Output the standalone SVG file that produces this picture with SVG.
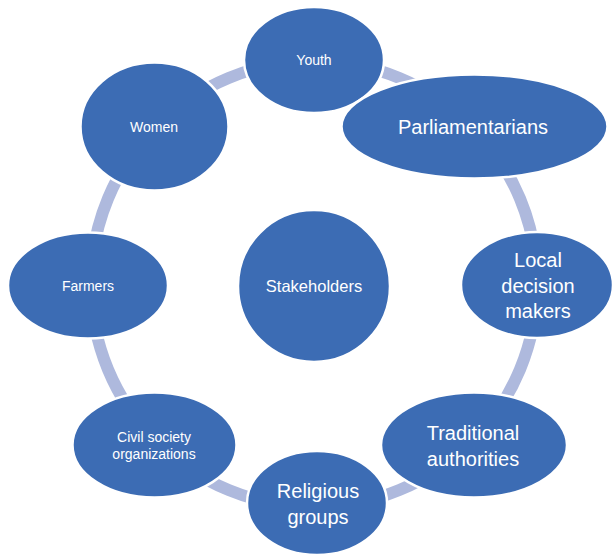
<svg xmlns="http://www.w3.org/2000/svg" width="613" height="556" viewBox="0 0 613 556">
<style>
.arc{fill:none;stroke:#AEB9DD;stroke-width:12}
.node{fill:#3C6CB4;stroke:#FFFFFF;stroke-width:2.5}
.t{fill:#FFFFFF;font-family:"Liberation Sans",Arial,sans-serif;text-anchor:middle}
.s{font-size:14px}
.l{font-size:20px}
.m{font-size:16.5px}
</style>
<rect width="613" height="556" fill="#FFFFFF"/>
<g id="connectors">
<path class="arc" d="M314 61 A223 223 0 0 1 471.7 126.3"/>
<path class="arc" d="M471.7 126.3 A223 223 0 0 1 537 284"/>
<path class="arc" d="M537 284 A223 223 0 0 1 471.7 441.7"/>
<path class="arc" d="M471.7 441.7 A223 223 0 0 1 314 507"/>
<path class="arc" d="M314 507 A223 223 0 0 1 156.3 441.7"/>
<path class="arc" d="M156.3 441.7 A223 223 0 0 1 91 284"/>
<path class="arc" d="M91 284 A223 223 0 0 1 156.3 126.3"/>
<path class="arc" d="M156.3 126.3 A223 223 0 0 1 314 61"/>
</g>
<g id="stakeholders">
<ellipse class="node" cx="314" cy="286" rx="76" ry="76"/>
<text class="t m" x="314" y="292">Stakeholders</text>
</g>
<g id="youth">
<ellipse class="node" cx="314" cy="60" rx="70" ry="53"/>
<text class="t s" x="314" y="65">Youth</text>
</g>
<g id="parliamentarians">
<ellipse class="node" cx="474.5" cy="126.5" rx="133" ry="52"/>
<text class="t l" x="473" y="134">Parliamentarians</text>
</g>
<g id="local">
<ellipse class="node" cx="537" cy="285" rx="76" ry="53"/>
<text class="t l" x="538" y="267">Local</text>
<text class="t l" x="538" y="292.5">decision</text>
<text class="t l" x="538" y="318">makers</text>
</g>
<g id="traditional">
<ellipse class="node" cx="474" cy="445" rx="93" ry="52.5"/>
<text class="t l" x="473" y="440">Traditional</text>
<text class="t l" x="473" y="466">authorities</text>
</g>
<g id="religious">
<ellipse class="node" cx="317" cy="503" rx="70" ry="52"/>
<text class="t l" x="318" y="498">Religious</text>
<text class="t l" x="318" y="523.5">groups</text>
</g>
<g id="civil">
<ellipse class="node" cx="154.5" cy="445" rx="82" ry="52.5"/>
<text class="t s" x="154" y="442">Civil society</text>
<text class="t s" x="154" y="459">organizations</text>
</g>
<g id="farmers">
<ellipse class="node" cx="88" cy="285.5" rx="80" ry="53"/>
<text class="t s" x="88" y="291">Farmers</text>
</g>
<g id="women">
<ellipse class="node" cx="154.5" cy="126.5" rx="74" ry="64"/>
<text class="t s" x="154" y="132">Women</text>
</g>
</svg>
